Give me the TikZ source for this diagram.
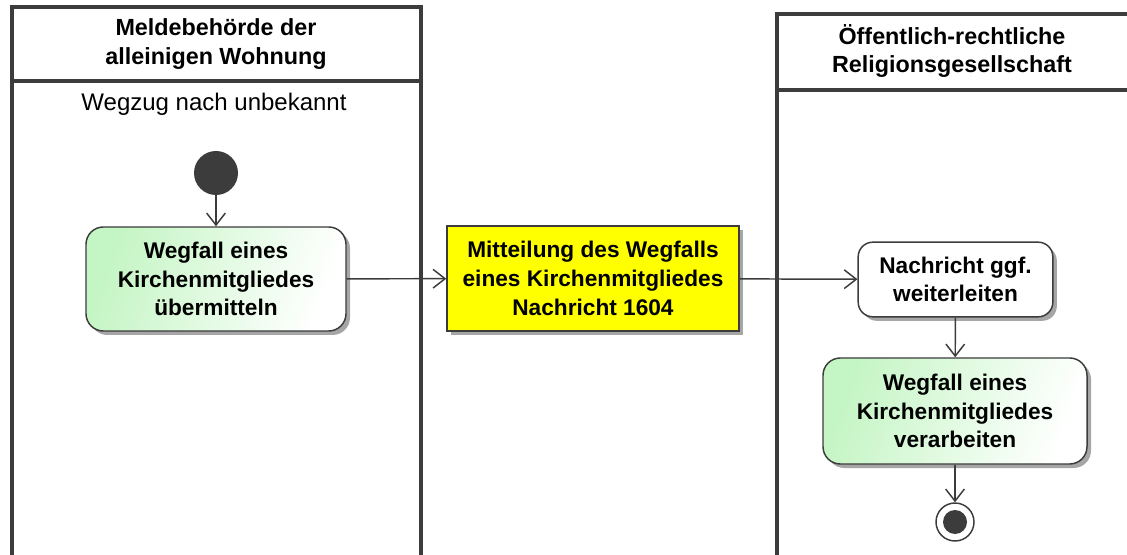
\documentclass[tikz,border=0pt]{standalone}
\usepackage{fontspec}
\setmainfont{Liberation Sans}
\usetikzlibrary{arrows.meta,shadows}
\definecolor{lc}{HTML}{3C3C3C}
\definecolor{greenL}{HTML}{C4F5C4}
\definecolor{yel}{HTML}{FFFF00}
\begin{document}
\begin{tikzpicture}[x=0.75pt,y=-0.75pt,
  lane/.style={draw=lc,line width=2.5pt},
  txt/.style={font=\fontsize{17pt}{21.5pt}\selectfont\bfseries,align=center,text=black},
  shad/.style={drop shadow={shadow xshift=3pt,shadow yshift=-3pt,fill=black!35,opacity=1}},
  act/.style={txt,draw=lc,line width=1.1pt,rounded corners=13pt,shad},
  greenact/.style={act,left color=greenL,right color=white,shading angle=70},
  conn/.style={draw=lc,line width=1.1pt,-{Straight Barb[length=9pt,width=14pt,line width=1.1pt]}}
]
\useasboundingbox (0,0) rectangle (1127,555);
% lanes
\draw[lane] (12,560) -- (12,7) -- (421,7) -- (421,560);
\draw[lane] (12,81) -- (421,81);
\draw[lane] (777,560) -- (777,14) -- (1130,14);
\draw[lane] (777,90) -- (1130,90);
\node[txt,font=\fontsize{17.5pt}{21.5pt}\selectfont\bfseries] (h1) at (216,44) {Meldebehörde der\\alleinigen Wohnung};
\node[txt,font=\fontsize{17.5pt}{21.5pt}\selectfont\bfseries] (h2) at (952,51) {Öffentlich-rechtliche\\Religionsgesellschaft};
\node[font=\fontsize{18pt}{21.5pt}\selectfont] (sub) at (214,104) {Wegzug nach unbekannt};
% nodes
\node[circle,fill=lc,minimum size=33pt,inner sep=0pt] (start) at (216,173) {};
\node[greenact,minimum width=195pt,minimum height=78pt] (g1) at (216,279) {Wegfall eines\\Kirchenmitgliedes\\übermitteln};
\node[txt,draw=lc,line width=1.1pt,fill=yel,shad,minimum width=219pt,minimum height=78.75pt] (y) at (593,278.5) {Mitteilung des Wegfalls\\eines Kirchenmitgliedes\\Nachricht 1604};
\node[act,fill=white,rounded corners=11pt,minimum width=146pt,minimum height=56pt] (n) at (955.5,279.5) {Nachricht ggf.\\weiterleiten};
\node[greenact,minimum width=198pt,minimum height=79.5pt] (g2) at (955,411) {Wegfall eines\\Kirchenmitgliedes\\verarbeiten};
\node[circle,draw=lc,line width=1.1pt,fill=white,minimum size=28.5pt,inner sep=0pt] (end) at (955,522) {};
\fill[lc] (end.center) circle[radius=9pt];
% connectors
\draw[conn] (start) -- (g1);
\draw[conn] (g1) -- (y);
\draw[conn] (y) -- (n);
\draw[conn] (n) -- (g2);
\draw[conn] (g2) -- (end);
\end{tikzpicture}
\end{document}
